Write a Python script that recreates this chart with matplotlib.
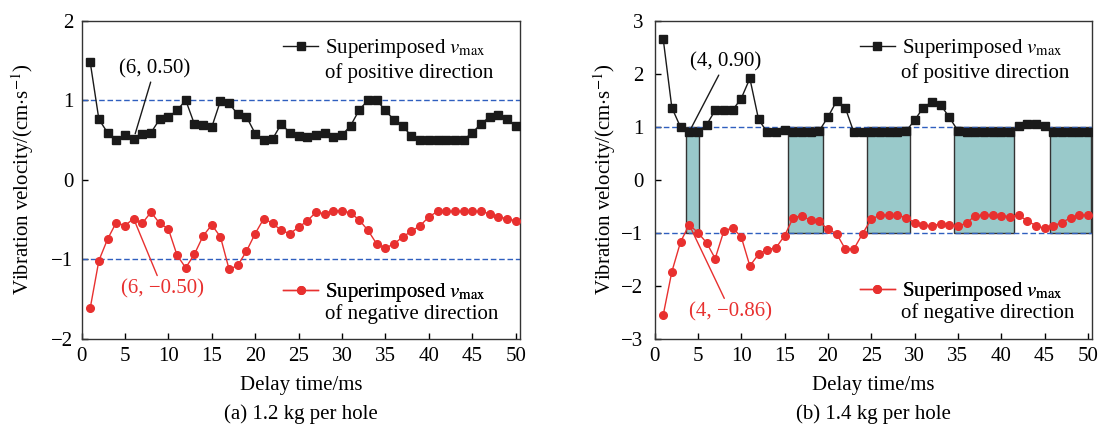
import matplotlib
matplotlib.use("Agg")
import matplotlib.pyplot as plt
import numpy as np

plt.rcParams['font.family'] = ['Liberation Serif', 'DejaVu Serif']
plt.rcParams['mathtext.fontset'] = 'stix'
plt.rcParams['font.size'] = 15

# delay time, ms
delay = np.arange(1, 51)

# (a) 1.2 kg per hole
pos_a = [1.48, 0.76, 0.59, 0.50, 0.56, 0.51, 0.58, 0.59, 0.76, 0.79,
         0.87, 1.00, 0.70, 0.69, 0.66, 0.99, 0.96, 0.82, 0.79, 0.58,
         0.50, 0.51, 0.70, 0.59, 0.55, 0.53, 0.56, 0.59, 0.54, 0.56,
         0.68, 0.88, 1.00, 1.00, 0.87, 0.75, 0.67, 0.55, 0.50, 0.50,
         0.50, 0.50, 0.50, 0.50, 0.59, 0.70, 0.79, 0.81, 0.76, 0.67]
neg_a = [-1.62, -1.02, -0.75, -0.54, -0.58, -0.49, -0.55, -0.41, -0.55, -0.62,
         -0.95, -1.11, -0.94, -0.71, -0.57, -0.72, -1.13, -1.08, -0.90, -0.68,
         -0.49, -0.55, -0.64, -0.68, -0.60, -0.52, -0.41, -0.43, -0.39, -0.39,
         -0.42, -0.51, -0.64, -0.81, -0.86, -0.81, -0.72, -0.65, -0.58, -0.47,
         -0.40, -0.40, -0.40, -0.40, -0.40, -0.40, -0.43, -0.47, -0.49, -0.52]

# (b) 1.4 kg per hole
pos_b = [2.66, 1.36, 0.99, 0.90, 0.90, 1.03, 1.31, 1.31, 1.31, 1.53,
         1.91, 1.14, 0.89, 0.89, 0.94, 0.89, 0.89, 0.89, 0.92, 1.18,
         1.48, 1.36, 0.89, 0.89, 0.89, 0.89, 0.89, 0.89, 0.91, 1.12,
         1.36, 1.47, 1.41, 1.18, 0.92, 0.89, 0.89, 0.89, 0.89, 0.89,
         0.89, 1.02, 1.05, 1.05, 1.02, 0.90, 0.89, 0.89, 0.89, 0.89]
neg_b = [-2.56, -1.74, -1.18, -0.85, -1.00, -1.19, -1.49, -0.97, -0.91, -1.08,
         -1.63, -1.41, -1.32, -1.29, -1.06, -0.72, -0.68, -0.77, -0.79, -0.94,
         -1.02, -1.31, -1.31, -1.02, -0.75, -0.67, -0.67, -0.67, -0.72, -0.81,
         -0.85, -0.88, -0.83, -0.85, -0.88, -0.82, -0.68, -0.67, -0.67, -0.68,
         -0.70, -0.67, -0.78, -0.87, -0.92, -0.87, -0.81, -0.72, -0.67, -0.67]

# shaded stable windows in (b): start, end of delay time
box_start = [3.65, 15.35, 24.5, 34.6, 45.6]
box_end = [5.1, 19.4, 29.5, 41.5, 50.3]

black = '#1a1a1a'
red = '#e8302f'
blue = '#2f5fbf'
teal = '#99c9ca'

fig = plt.figure(figsize=(11, 4.32), dpi=100)
ax1 = fig.add_axes([81.5 / 1100, 93.5 / 432, 438.5 / 1100, 317.8 / 432])
ax2 = fig.add_axes([654.5 / 1100, 93.5 / 432, 437.8 / 1100, 317.8 / 432])


def setup(ax, ylim, yticks, ypad, ylab_x, caption):
    ax.set_xlim(0, 50.5)
    ax.set_ylim(*ylim)
    ax.set_xticks(np.arange(0, 51, 5))
    ax.set_yticks(yticks)
    ax.tick_params(direction='in', length=4, width=1, top=False, right=False)
    ax.tick_params(axis='y', pad=ypad)
    ax.tick_params(axis='x', pad=6)
    for s in ax.spines.values():
        s.set_linewidth(1)
        s.set_color('#333333')
    ax.set_xlabel('Delay time/ms', labelpad=7)
    ax.set_ylabel('Vibration velocity/(cm$\\cdot$s$^{-1}$)')
    ax.yaxis.set_label_coords(ylab_x, 0.5)
    pos = ax.get_position()
    fig.text(pos.x0 + pos.width / 2, 0.042, caption, ha='center', va='center')


def legend_pair(ax, x, y1, y2, label2, **kw):
    ln, = ax.plot([], [], **kw)
    leg = ax.legend([ln], ['Superimposed $v_{\\mathrm{max}}$'], loc='center left',
                    bbox_to_anchor=(x, y1), frameon=False, borderpad=0,
                    borderaxespad=0, handlelength=1.68, handletextpad=0.34)
    ax.add_artist(leg)
    ax.text(x + 0.095, y2, label2, transform=ax.transAxes, va='center', ha='left')


sq = dict(color=black, marker='s', markersize=5.5, lw=1)
ci = dict(color=red, marker='o', markersize=5.5, lw=1)

# ---- (a)
setup(ax1, (-2, 2), [-2, -1, 0, 1, 2], 6, -0.104, '(a) 1.2 kg per hole')
ax1.axhline(1, color=blue, ls='--', lw=1, dashes=(4, 2), zorder=2)
ax1.axhline(-1, color=blue, ls='--', lw=1, dashes=(4, 2), zorder=2)
ax1.plot(delay, pos_a, zorder=3, **sq)
ax1.plot(delay, neg_a, zorder=3, **ci)
ax1.annotate('(6, 0.50)', xy=(6, pos_a[5]), xytext=(8.44, 1.40), ha='center', va='center',
             arrowprops=dict(arrowstyle='-', color=black, lw=1, shrinkA=1, shrinkB=4))
ax1.annotate('(6, \u22120.50)', xy=(6, neg_a[5]), xytext=(9.37, -1.38), ha='center', va='center',
             color=red, arrowprops=dict(arrowstyle='-', color=red, lw=1, shrinkA=1, shrinkB=4))
legend_pair(ax1, 0.46, 0.911, 0.836, 'of positive direction', **sq)
legend_pair(ax1, 0.46, 0.144, 0.077, 'of negative direction', **ci)

# ---- (b)
setup(ax2, (-3, 3), [-3, -2, -1, 0, 1, 2, 3], 8, -0.084, '(b) 1.4 kg per hole')
for a, b in zip(box_start, box_end):
    ax2.bar((a + b) / 2, 2, width=b - a, bottom=-1, color=teal, edgecolor='#333333',
            lw=1, zorder=1)
ax2.axhline(1, color=blue, ls='--', lw=1, dashes=(4, 2), zorder=2)
ax2.axhline(-1, color=blue, ls='--', lw=1, dashes=(4, 2), zorder=2)
ax2.plot(delay, pos_b, zorder=3, **sq)
ax2.plot(delay, neg_b, zorder=3, **ci)
ax2.annotate('(4, 0.90)', xy=(4, pos_b[3]), xytext=(8.23, 2.23), ha='center', va='center',
             arrowprops=dict(arrowstyle='-', color=black, lw=1, shrinkA=1, shrinkB=3))
ax2.annotate('(4, \u22120.86)', xy=(4, neg_b[3]), xytext=(8.8, -2.50), ha='center', va='center',
             color=red, arrowprops=dict(arrowstyle='-', color=red, lw=1, shrinkA=1, shrinkB=3))
legend_pair(ax2, 0.469, 0.911, 0.836, 'of positive direction', **sq)
legend_pair(ax2, 0.469, 0.147, 0.080, 'of negative direction', **ci)

fig.savefig('out.png', dpi=100)
